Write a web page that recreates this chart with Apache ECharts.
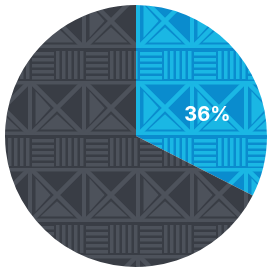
<!DOCTYPE html>
<html>
<head>
<meta charset="utf-8">
<script src="https://cdn.jsdelivr.net/npm/echarts@6/dist/echarts.min.js"></script>
<style>
  html, body { margin: 0; padding: 0; background: #fff; }
  #chart { width: 272px; height: 272px; }
</style>
</head>
<body>
<div id="chart"></div>
<script>
// slice values as drawn (the slice boundary sits at ~117deg), printed label as written
var sliceNames = ["Share", "Rest"];
var sliceValues = [32.5, 67.5];
var sliceLabels = ["36%", ""];

// mud-cloth style texture: X squares with a stripe band under each row
function makeTexture(base, light) {
  var c = document.createElement("canvas");
  c.width = 272;
  c.height = 272;
  var ctx = c.getContext("2d");
  ctx.fillStyle = base;
  ctx.fillRect(0, 0, 272, 272);
  ctx.fillStyle = light;
  ctx.strokeStyle = light;

  var S = 54, rowH = 87, offX = 30, offY = 81;
  var gap = 4.5;
  var d = gap * Math.SQRT2;
  for (var y0 = offY - rowH * 2; y0 < 272; y0 += rowH) {
    for (var x0 = offX - S * 2; x0 < 272; x0 += S) {
      ctx.save();
      ctx.beginPath();
      ctx.rect(x0, y0, S, S);
      ctx.clip();
      // frame
      ctx.fillRect(x0 - 2, y0, 4, S);
      ctx.fillRect(x0 + S - 2, y0, 4, S);
      ctx.fillRect(x0, y0, S, 3.5);
      ctx.fillRect(x0, y0 + S - 3.5, S, 3.5);
      // X
      ctx.lineWidth = 4.5;
      ctx.beginPath();
      ctx.moveTo(x0, y0);
      ctx.lineTo(x0 + S, y0 + S);
      ctx.moveTo(x0 + S, y0);
      ctx.lineTo(x0, y0 + S);
      ctx.stroke();
      // left inner triangle
      ctx.beginPath();
      ctx.moveTo(x0 + 5.5, y0 + 4 + d);
      ctx.lineTo(x0 + 5.5, y0 + S - 4 - d);
      ctx.lineTo(x0 + S / 2 - d, y0 + S / 2);
      ctx.closePath();
      ctx.fill();
      // bottom inner triangle
      ctx.beginPath();
      ctx.moveTo(x0 + 4 + d, y0 + S - 5.5);
      ctx.lineTo(x0 + S - 4 - d, y0 + S - 5.5);
      ctx.lineTo(x0 + S / 2, y0 + S / 2 + d);
      ctx.closePath();
      ctx.fill();
      ctx.restore();

      // stripe band
      var sy = y0 + S;
      for (var i = 0; i < 5; i++) {
        ctx.fillRect(x0 + 2, sy + 4 + 6 * i, 22, 3.5);
        ctx.fillRect(x0 + 26 + 6 * i, sy + 3, 3.5, 28);
      }
    }
  }
  return c;
}

var blueTex = makeTexture("#0a8cce", "#1ab7e4");
var greyTex = makeTexture("#393d45", "#4d525b");
var textures = [blueTex, greyTex];

var myChart = echarts.init(document.getElementById("chart"));
myChart.setOption({
  animation: false,
  backgroundColor: "#ffffff",
  series: [
    {
      type: "pie",
      center: ["50%", "50%"],
      radius: 131,
      startAngle: 90,
      clockwise: true,
      silent: true,
      label: {
        show: true,
        position: "inside",
        offset: [13, 15],
        color: "#ffffff",
        fontSize: 20,
        fontWeight: "bold",
        fontFamily: "Inter",
        formatter: function (p) {
          return sliceLabels[p.dataIndex];
        }
      },
      labelLine: { show: false },
      data: sliceValues.map(function (v, i) {
        return {
          name: sliceNames[i],
          value: v,
          itemStyle: { color: { image: textures[i], repeat: "no-repeat" } }
        };
      })
    }
  ]
});
</script>
</body>
</html>
